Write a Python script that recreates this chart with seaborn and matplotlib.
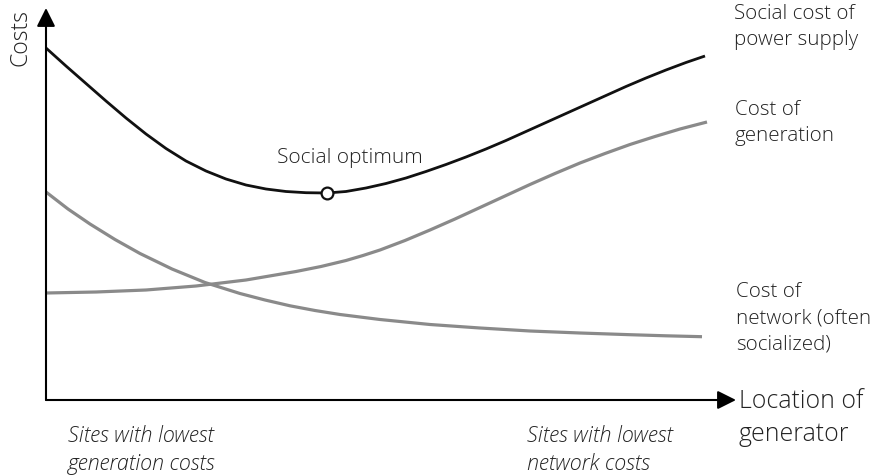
import numpy as np
import pandas as pd
import matplotlib.pyplot as plt
import seaborn as sns

sns.set_theme(style="white")
plt.rcParams['font.family'] = ['Open Sans', 'DejaVu Sans']

# values (x = location, y = cost, arbitrary units)
social_x = [0, 20, 40, 60, 80, 100, 120, 140, 160, 180, 200, 220, 240, 260, 281,
            300, 320, 340, 360, 380, 400, 420, 440, 460, 480, 500, 520, 540, 560, 580, 600, 620, 640, 659]
social_y = [352, 334, 316.5, 299, 282, 266, 251.5, 239, 229, 221, 215, 211, 208.5, 207.3, 207,
            208.5, 212, 216.5, 222, 228.5, 235.5, 243, 251, 259.5, 268.5, 277.5, 286.5, 295.5, 304.5,
            313.5, 322, 330, 337.5, 344]

gen_x = [0, 50, 100, 150, 200, 250, 275, 300, 317, 334, 359, 384, 409, 434, 459, 484, 509, 534,
         559, 584, 609, 634, 661]
gen_y = [107, 108, 110, 114, 120, 128.5, 133.5, 139.5, 144.5, 150, 159.5, 170, 181, 192.5, 204, 215.5,
         226.5, 237, 246.5, 255.5, 263.5, 271, 278]

net_x = [0, 22, 44, 69, 94, 126, 159, 194, 219, 244, 269, 294, 334, 384, 434, 484, 534, 584, 620, 656]
net_y = [208, 191, 176, 160.5, 146.5, 131, 117.5, 106.5, 100, 94.2, 89.5, 85.5, 80.5, 75.5, 72, 69, 67,
         65.3, 64.2, 63.3]

optimum = (281, 207)

df = pd.concat([
    pd.DataFrame({"x": social_x, "y": social_y, "curve": "social"}),
    pd.DataFrame({"x": gen_x, "y": gen_y, "curve": "generation"}),
    pd.DataFrame({"x": net_x, "y": net_y, "curve": "network"}),
])

fig = plt.figure(figsize=(8.79, 4.76), dpi=100)
ax = fig.add_axes([0, 0, 1, 1])
sns.lineplot(data=df, x="x", y="y", hue="curve", sort=False, estimator=None,
             palette={"social": "#111111", "generation": "#8a8a8a", "network": "#8a8a8a"},
             linewidth=2.0, legend=False, ax=ax)
for ln in ax.lines:
    ln.set_solid_joinstyle("round")
    ln.set_solid_capstyle("butt")
    if ln.get_color() != "#111111":
        ln.set_linewidth(2.3)
ax.plot(*optimum, "o", ms=8.5, mfc="white", mec="#111111", mew=1.6, zorder=5)

ax.set_xlim(-46, 833)
ax.set_ylim(-76, 400)
ax.axis("off")

# axes with arrow heads
arrow = dict(arrowstyle="-|>", color="black", lw=1.5, mutation_scale=28, shrinkA=0, shrinkB=0)
ax.annotate("", xy=(0, 392), xytext=(0, 0), arrowprops=arrow)
ax.annotate("", xy=(690, 0), xytext=(0, 0), arrowprops=arrow)

tc = "#222222"
fw = "light"
ax.text(-25, 362, "Costs", rotation=90, ha="center", va="center", fontsize=16.5, color=tc, fontweight=fw)
ax.text(688, 373, "Social cost of\npower supply", ha="left", va="center", fontsize=14.8, color=tc,
        linespacing=1.42, fontweight=fw)
ax.text(689, 277, "Cost of\ngeneration", ha="left", va="center", fontsize=14.8, color=tc,
        linespacing=1.42, fontweight=fw)
ax.text(690, 82, "Cost of\nnetwork (often\nsocialized)", ha="left", va="center", fontsize=14.8, color=tc,
        linespacing=1.42, fontweight=fw)
ax.text(693, -18, "Location of\ngenerator", ha="left", va="center", fontsize=17.9, color=tc,
        linespacing=1.45, fontweight=fw)
ax.text(231, 242, "Social optimum", ha="left", va="center", fontsize=15, color=tc, fontweight=fw)
ax.text(22, -50, "Sites with lowest\ngeneration costs", ha="left", va="center", fontsize=15.5, color=tc,
        style="italic", linespacing=1.3, fontweight=fw)
ax.text(481, -50, "Sites with lowest\nnetwork costs", ha="left", va="center", fontsize=15.5, color=tc,
        style="italic", linespacing=1.3, fontweight=fw)

fig.savefig("out.png", dpi=100)
